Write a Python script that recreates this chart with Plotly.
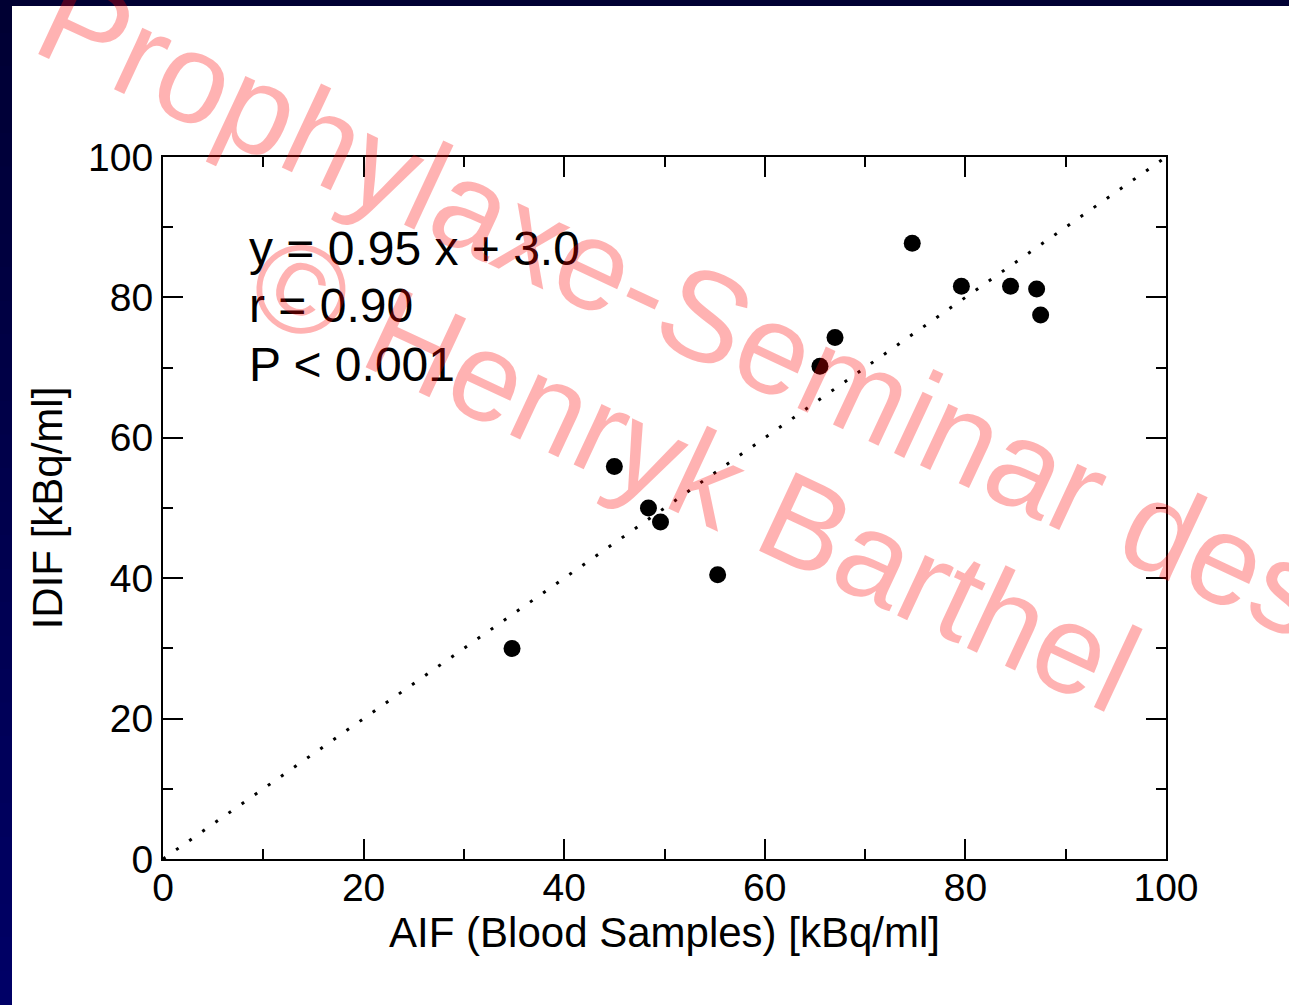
import plotly.graph_objects as go

# Data
aif = [34.8, 45.0, 48.4, 49.6, 55.3, 65.5, 67.0, 74.7, 79.6, 84.5, 87.1, 87.5]
idif = [30.0, 55.9, 50.0, 48.0, 40.5, 70.2, 74.3, 87.7, 81.6, 81.6, 81.2, 77.5]
identity_x = [0, 100]
identity_y = [0, 100]
tick_vals = [0, 20, 40, 60, 80, 100]
tick_text = ["0", "20", "40", "60", "80", "100"]
stats_lines = ["y = 0.95 x + 3.0", "r = 0.90", "P < 0.001"]
stats_y = [86.9, 78.9, 70.5]
watermark_lines = ["Prophylaxe-Seminar des", "© Henryk Barthel"]

W, H = 1289, 1005
L, R, T, B = 163, 1166, 157, 859  # plot area in page pixels
PW, PH = R - L, B - T
FONT = "Liberation Sans, Arial, Helvetica, sans-serif"


def px2paper(px, py):
    return (px - L) / PW, (B - py) / PH


fig = go.Figure()
fig.add_trace(go.Scatter(
    x=identity_x, y=identity_y, mode="lines",
    line=dict(color="black", width=3, dash="3px,13px"),
    hoverinfo="skip", showlegend=False))
fig.add_trace(go.Scatter(
    x=aif, y=idif, mode="markers",
    marker=dict(color="black", size=17, line=dict(width=0)),
    showlegend=False))

axis_common = dict(
    range=[0, 100], tickmode="array", tickvals=tick_vals, ticktext=tick_text,
    ticks="inside", ticklen=20, tickwidth=2, tickcolor="black",
    minor=dict(dtick=10, ticks="inside", ticklen=10, tickwidth=2, tickcolor="black"),
    showline=True, linecolor="black", linewidth=2, mirror="ticks",
    showgrid=False, zeroline=False,
    tickfont=dict(family=FONT, size=39, color="black"),
)

fig.update_xaxes(**axis_common, ticklabelstandoff=-7,
                 title=dict(text="AIF (Blood Samples) [kBq/ml]",
                            font=dict(family=FONT, size=42, color="black"),
                            standoff=9))
fig.update_yaxes(**axis_common,
                 title=dict(text="IDIF [kBq/ml]",
                            font=dict(family=FONT, size=42, color="black"),
                            standoff=12))

annotations = []
for txt, yv in zip(stats_lines, stats_y):
    annotations.append(dict(
        x=8.4, y=yv, xref="x", yref="y", text=txt, showarrow=False,
        xanchor="left", yanchor="middle",
        font=dict(family=FONT, size=48, color="black")))

wm_pos = [(683, 305), (694, 472)]
wm_size = [128, 126]
for txt, (px, py), sz in zip(watermark_lines, wm_pos, wm_size):
    xp, yp = px2paper(px, py)
    annotations.append(dict(
        x=xp, y=yp, xref="paper", yref="paper", text=txt,
        showarrow=False, xanchor="center", yanchor="middle", textangle=25,
        font=dict(family=FONT, size=sz, color="rgba(255,0,0,0.3)")))

# navy slide border (top strip + left strip with vertical gradient)
x_left = px2paper(-2, 0)[0]
x_right = px2paper(W + 2, 0)[0]
shapes = []
n = 30
x_strip = px2paper(12, 0)[0]
for i in range(n):
    t = i / (n - 1)
    b = int(round(0x33 + (0x66 - 0x33) * t))
    y1 = px2paper(0, H * i / n - 1)[1]
    y0 = px2paper(0, H * (i + 1) / n + 1)[1]
    shapes.append(dict(type="rect", xref="paper", yref="paper",
                       x0=x_left, x1=x_strip, y0=y0, y1=y1,
                       fillcolor=f"#0000{b:02x}", line=dict(width=0), layer="above"))
shapes.append(dict(type="rect", xref="paper", yref="paper",
                   x0=x_left, x1=x_right, y0=px2paper(0, 6)[1], y1=px2paper(0, -2)[1],
                   fillcolor="#000033", line=dict(width=0), layer="above"))

fig.update_layout(
    width=W, height=H,
    margin=dict(l=L, r=W - R, t=T, b=H - B, pad=0),
    paper_bgcolor="white", plot_bgcolor="white",
    annotations=annotations, shapes=shapes,
    showlegend=False,
)

fig.write_html("out.html", config={"displayModeBar": False},
               post_script="document.body.style.margin='0';document.body.style.overflow='hidden';")
